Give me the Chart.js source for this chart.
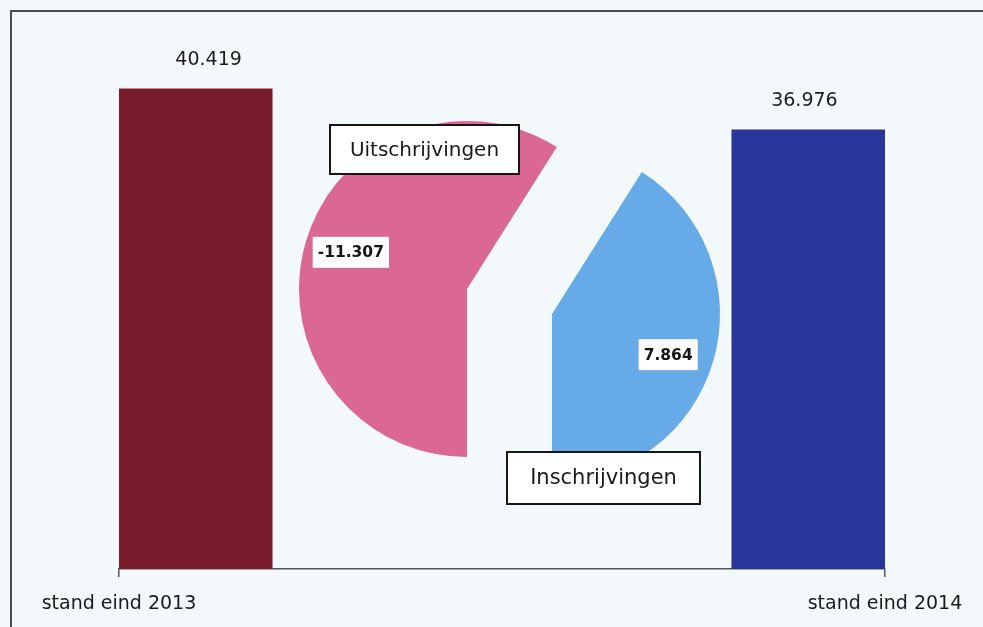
<!DOCTYPE html>
<html>
<head>
<meta charset="utf-8">
<script src="https://cdn.jsdelivr.net/npm/chart.js@4.4.1/dist/chart.umd.min.js"></script>
<style>
  html, body { margin: 0; padding: 0; background: #f3f8fb; }
  #wrap { position: relative; width: 983px; height: 627px; overflow: hidden; background: #f3f8fb; }
  #frame { position: absolute; left: 10px; top: 10px; right: -20px; bottom: -20px;
           border-left: 2px solid #4a4a55; border-top: 2px solid #4a4a55; }
  canvas { position: absolute; }
  #bars { left: 0; top: 0; }
  #pieOut { left: 267px; top: 89px; }
  #pieIn { left: 352px; top: 114px; }
</style>
</head>
<body>
<div id="wrap">
  <div id="frame"></div>
  <canvas id="bars" width="983" height="627"></canvas>
  <canvas id="pieOut" width="400" height="400"></canvas>
  <canvas id="pieIn" width="400" height="400"></canvas>
</div>
<script>
// ---- data ----
const slots = ['stand eind 2013', '', '', '', 'stand eind 2014'];
const standValues = [40419, null, null, null, 36976];
const endLabels = ['stand eind 2013', 'stand eind 2014'];
const mutationLabels = ['Uitschrijvingen', 'Inschrijvingen'];
const mutationValues = [-11307, 7864];

// ---- styles ----
const FONT = "'DejaVu Sans', sans-serif";
const barColors = ['#7a1b2b', '', '', '', '#28359a'];
const barLabelShift = [13, 0, 0, 0, -4];
const pieColors = ['#db6892', '#66aae8'];
const valueLabelShiftY = [-3, 7];
const calloutOffsets = [[-42.5, -139.5], [51.5, 164]];
const calloutFonts = ['20px ' + FONT, '21px ' + FONT];
const calloutSize = [[189, 49], [193, 52]];

function fmt(v) {
  const s = Math.abs(v).toString().replace(/\B(?=(\d{3})+(?!\d))/g, '.');
  return (v < 0 ? '-' : '') + s;
}

Chart.defaults.font.family = FONT;
Chart.defaults.color = '#1a1a1a';

// ---- bar chart ----
const barLabelPlugin = {
  id: 'barLabels',
  afterDatasetsDraw(chart) {
    const ctx = chart.ctx;
    const meta = chart.getDatasetMeta(0);
    ctx.save();
    ctx.font = '19px ' + FONT;
    ctx.fillStyle = '#1e1e1e';
    ctx.textAlign = 'center';
    ctx.textBaseline = 'middle';
    meta.data.forEach((bar, i) => {
      const v = standValues[i];
      if (v == null) return;
      ctx.fillText(fmt(v), bar.x + barLabelShift[i], bar.y - 29);
    });
    ctx.restore();
  }
};

new Chart(document.getElementById('bars'), {
  type: 'bar',
  data: {
    labels: slots,
    datasets: [{
      data: standValues,
      backgroundColor: barColors,
      barPercentage: 1,
      categoryPercentage: 1,
      borderWidth: 0,
      xAxisID: 'x',
      yAxisID: 'y'
    }]
  },
  options: {
    responsive: false,
    animation: false,
    devicePixelRatio: 1,
    layout: { padding: { left: 119, right: 98, top: 34.5, bottom: 0 } },
    plugins: { legend: { display: false }, tooltip: { enabled: false }, title: { display: false } },
    scales: {
      x: { type: 'category', display: false, offset: true },
      xl: {
        type: 'linear', position: 'bottom', min: 0, max: 1, offset: false,
        afterFit(scale) { scale.height = 58; },
        ticks: {
          stepSize: 1,
          callback: (v) => (v === 0 ? endLabels[0] : v === 1 ? endLabels[1] : null),
          font: { size: 19, family: FONT },
          color: '#1a1a1a',
          padding: 16,
          maxRotation: 0,
          autoSkip: false
        },
        grid: { display: true, offset: false, drawOnChartArea: false, drawTicks: true, tickLength: 8, color: '#55555f', lineWidth: 1.5 },
        border: { display: true, color: '#55555f', width: 1.5 }
      },
      y: { display: false, min: 0, max: 45000 }
    }
  },
  plugins: [barLabelPlugin]
});

// ---- exploded pie: one canvas per slice, each centred on its own pulled-out position ----
function makeSlicePlugin(idx) {
  return {
    id: 'sliceLabels' + idx,
    afterDatasetsDraw(chart) {
      const ctx = chart.ctx;
      const arc = chart.getDatasetMeta(0).data[idx];
      const half = (arc.startAngle + arc.endAngle) / 2;
      const r = arc.outerRadius;
      ctx.save();
      // value label
      const lx = arc.x + Math.cos(half) * r * 0.72;
      const ly = arc.y + Math.sin(half) * r * 0.72 + valueLabelShiftY[idx];
      const txt = fmt(mutationValues[idx]);
      ctx.font = 'bold 15.5px ' + FONT;
      const w = ctx.measureText(txt).width + 10;
      ctx.fillStyle = '#ffffff';
      ctx.fillRect(lx - w / 2, ly - 15.5, w, 31);
      ctx.fillStyle = '#161616';
      ctx.textAlign = 'center';
      ctx.textBaseline = 'middle';
      ctx.fillText(txt, lx, ly + 1);
      // callout box with the category name
      const bx = arc.x + calloutOffsets[idx][0];
      const by = arc.y + calloutOffsets[idx][1];
      const [bw, bh] = calloutSize[idx];
      ctx.fillStyle = '#ffffff';
      ctx.fillRect(bx - bw / 2, by - bh / 2, bw, bh);
      ctx.lineWidth = 2;
      ctx.strokeStyle = '#161616';
      ctx.strokeRect(bx - bw / 2, by - bh / 2, bw, bh);
      ctx.font = calloutFonts[idx];
      ctx.fillStyle = '#1a1a1a';
      ctx.fillText(mutationLabels[idx], bx, by + 1);
      ctx.restore();
    }
  };
}

function makeSliceChart(canvasId, idx) {
  new Chart(document.getElementById(canvasId), {
    type: 'pie',
    data: {
      labels: mutationLabels,
      datasets: [{
        data: mutationValues.map(Math.abs),
        backgroundColor: pieColors.map((c, i) => (i === idx ? c : 'rgba(0,0,0,0)')),
        borderWidth: 0
      }]
    },
    options: {
      responsive: false,
      animation: false,
      devicePixelRatio: 1,
      rotation: 180,
      radius: 168,
      layout: { padding: 0 },
      plugins: { legend: { display: false }, tooltip: { enabled: false }, title: { display: false } }
    },
    plugins: [makeSlicePlugin(idx)]
  });
}

makeSliceChart('pieOut', 0);
makeSliceChart('pieIn', 1);
</script>
</body>
</html>
